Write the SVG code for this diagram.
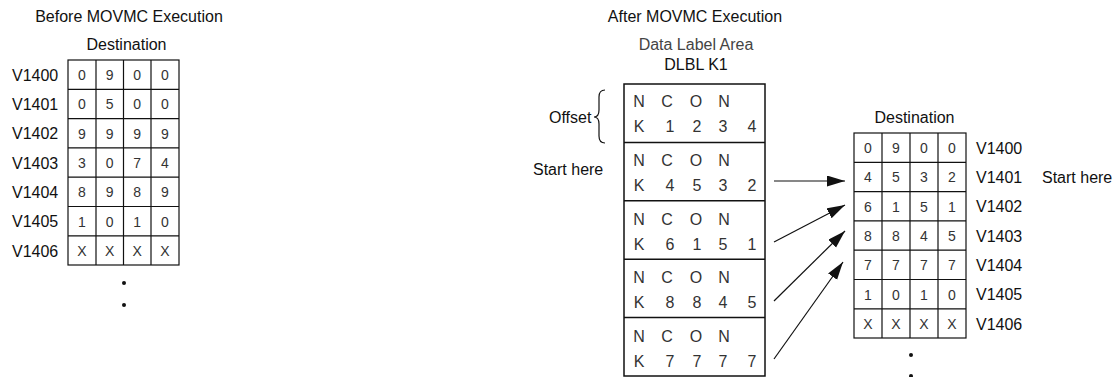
<svg xmlns="http://www.w3.org/2000/svg" width="1117" height="377" viewBox="0 0 1117 377">
<defs>
<style>
text{font-family:"Liberation Sans",Arial,sans-serif;}
.lbl{font-size:16px;fill:#111;}
.gray{font-size:16px;fill:#444;}
.cell{font-size:14px;fill:#333;text-anchor:middle;}
.box{font-size:16px;fill:#333;text-anchor:middle;}
.grid{fill:none;stroke:#111;stroke-width:1.2;}
.conn{stroke:#111;stroke-width:1.2;fill:none;}
</style>
<marker id="ah" markerUnits="userSpaceOnUse" markerWidth="19" markerHeight="12" refX="18" refY="5.5" orient="auto">
<path d="M0,0 L18,5.5 L0,11 z" fill="#111"/>
</marker>
</defs>
<rect width="1117" height="377" fill="#fff"/>

<g id="before">
<text class="lbl" x="129" y="22" text-anchor="middle">Before MOVMC Execution</text>
<text class="lbl" x="126.5" y="50" text-anchor="middle">Destination</text>
<g class="grid">
<rect x="68" y="60" width="111" height="205"/>
<path d="M96 60V265M123.5 60V265M151 60V265M68 89.3H179M68 118.6H179M68 147.9H179M68 177.2H179M68 206.5H179M68 235.8H179"/>
</g>
<g class="lbl">
<text x="12" y="81">V1400</text>
<text x="12" y="110">V1401</text>
<text x="12" y="139">V1402</text>
<text x="12" y="168.5">V1403</text>
<text x="12" y="198">V1404</text>
<text x="12" y="227">V1405</text>
<text x="12" y="256.5">V1406</text>
</g>
<g class="cell">
<text x="82" y="80">0</text><text x="109.7" y="80">9</text><text x="137.2" y="80">0</text><text x="165" y="80">0</text>
<text x="82" y="109.3">0</text><text x="109.7" y="109.3">5</text><text x="137.2" y="109.3">0</text><text x="165" y="109.3">0</text>
<text x="82" y="138.6">9</text><text x="109.7" y="138.6">9</text><text x="137.2" y="138.6">9</text><text x="165" y="138.6">9</text>
<text x="82" y="167.9">3</text><text x="109.7" y="167.9">0</text><text x="137.2" y="167.9">7</text><text x="165" y="167.9">4</text>
<text x="82" y="197.2">8</text><text x="109.7" y="197.2">9</text><text x="137.2" y="197.2">8</text><text x="165" y="197.2">9</text>
<text x="82" y="226.5">1</text><text x="109.7" y="226.5">0</text><text x="137.2" y="226.5">1</text><text x="165" y="226.5">0</text>
<text x="82" y="255.8">X</text><text x="109.7" y="255.8">X</text><text x="137.2" y="255.8">X</text><text x="165" y="255.8">X</text>
</g>
<circle cx="124" cy="283" r="2" fill="#111"/>
<circle cx="124" cy="305" r="2" fill="#111"/>
</g>

<g id="after-title">
<text class="lbl" x="695" y="22" text-anchor="middle">After MOVMC Execution</text>
<text class="gray" x="696" y="50" text-anchor="middle">Data Label Area</text>
<text class="lbl" x="696" y="70" text-anchor="middle">DLBL K1</text>
</g>

<g id="label-area">
<g class="grid">
<rect x="624" y="84" width="141" height="292" stroke-width="1.5"/>
<path d="M624 142.4H765M624 200.8H765M624 259.2H765M624 317.6H765" stroke-width="1.5"/>
</g>
<g class="box">
<text x="639" y="107">N</text><text x="667" y="107">C</text><text x="696" y="107">O</text><text x="724" y="107">N</text>
<text x="639" y="132">K</text><text x="670" y="132">1</text><text x="697" y="132">2</text><text x="723" y="132">3</text><text x="752" y="132">4</text>
<text x="639" y="166">N</text><text x="667" y="166">C</text><text x="696" y="166">O</text><text x="724" y="166">N</text>
<text x="639" y="191">K</text><text x="670" y="191">4</text><text x="697" y="191">5</text><text x="723" y="191">3</text><text x="752" y="191">2</text>
<text x="639" y="224.5">N</text><text x="667" y="224.5">C</text><text x="696" y="224.5">O</text><text x="724" y="224.5">N</text>
<text x="639" y="249.5">K</text><text x="670" y="249.5">6</text><text x="697" y="249.5">1</text><text x="723" y="249.5">5</text><text x="752" y="249.5">1</text>
<text x="639" y="283">N</text><text x="667" y="283">C</text><text x="696" y="283">O</text><text x="724" y="283">N</text>
<text x="639" y="308">K</text><text x="670" y="308">8</text><text x="697" y="308">8</text><text x="723" y="308">4</text><text x="752" y="308">5</text>
<text x="639" y="341.5">N</text><text x="667" y="341.5">C</text><text x="696" y="341.5">O</text><text x="724" y="341.5">N</text>
<text x="639" y="366.5">K</text><text x="670" y="366.5">7</text><text x="697" y="366.5">7</text><text x="723" y="366.5">7</text><text x="752" y="366.5">7</text>
</g>
</g>

<g id="offset">
<text class="lbl" x="549" y="123">Offset</text>
<path class="conn" d="M605 90Q599 90 599 97L599 110Q599 117 594 117Q599 117 599 124L599 136Q599 143 605 143"/>
</g>
<g id="start-left">
<text class="lbl" x="533" y="175">Start here</text>
</g>

<g id="after">
<text class="lbl" x="914.5" y="123" text-anchor="middle">Destination</text>
<g class="grid">
<rect x="854" y="133" width="112" height="205"/>
<path d="M882 133V338M910 133V338M938 133V338M854 162.3H966M854 191.6H966M854 220.9H966M854 250.2H966M854 279.5H966M854 308.8H966"/>
</g>
<g class="cell">
<text x="868" y="153">0</text><text x="896" y="153">9</text><text x="924" y="153">0</text><text x="952" y="153">0</text>
<text x="868" y="182.3">4</text><text x="896" y="182.3">5</text><text x="924" y="182.3">3</text><text x="952" y="182.3">2</text>
<text x="868" y="211.6">6</text><text x="896" y="211.6">1</text><text x="924" y="211.6">5</text><text x="952" y="211.6">1</text>
<text x="868" y="240.9">8</text><text x="896" y="240.9">8</text><text x="924" y="240.9">4</text><text x="952" y="240.9">5</text>
<text x="868" y="270.2">7</text><text x="896" y="270.2">7</text><text x="924" y="270.2">7</text><text x="952" y="270.2">7</text>
<text x="868" y="299.5">1</text><text x="896" y="299.5">0</text><text x="924" y="299.5">1</text><text x="952" y="299.5">0</text>
<text x="868" y="328.8">X</text><text x="896" y="328.8">X</text><text x="924" y="328.8">X</text><text x="952" y="328.8">X</text>
</g>
<g class="lbl">
<text x="976" y="154">V1400</text>
<text x="976" y="183">V1401</text>
<text x="976" y="212">V1402</text>
<text x="976" y="241.5">V1403</text>
<text x="976" y="271">V1404</text>
<text x="976" y="300">V1405</text>
<text x="976" y="329.5">V1406</text>
<text x="1042" y="183">Start here</text>
</g>
<circle cx="911" cy="355" r="2" fill="#111"/>
<circle cx="911" cy="376" r="2" fill="#111"/>
</g>

<g id="connectors">
<line class="conn" x1="774" y1="181" x2="845" y2="181" marker-end="url(#ah)"/>
<line class="conn" x1="774" y1="242" x2="845" y2="205" marker-end="url(#ah)"/>
<line class="conn" x1="774" y1="301" x2="845" y2="231" marker-end="url(#ah)"/>
<line class="conn" x1="774" y1="359" x2="843" y2="262" marker-end="url(#ah)"/>
</g>
</svg>
